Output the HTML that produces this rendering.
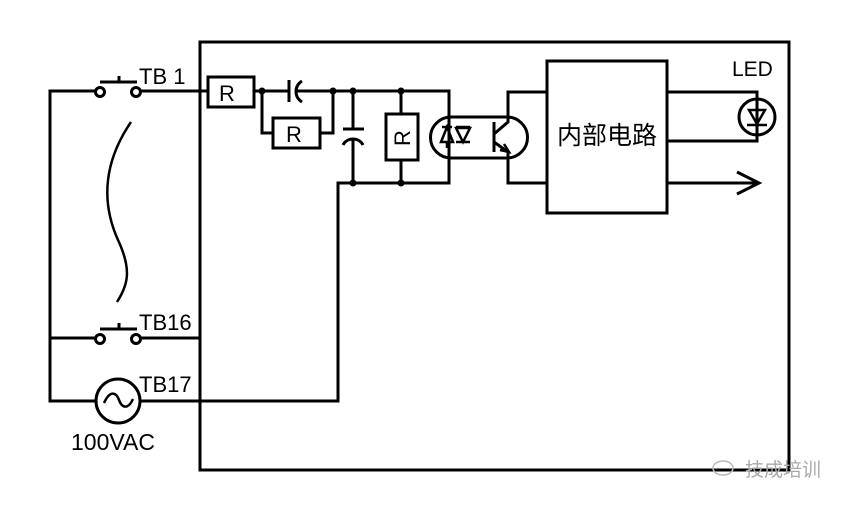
<!DOCTYPE html>
<html><head><meta charset="utf-8"><style>body{margin:0;background:#fff}svg{display:block}</style></head><body>
<svg width="855" height="508" viewBox="0 0 855 508" xmlns="http://www.w3.org/2000/svg" font-family="Liberation Sans, Noto Sans CJK SC, sans-serif">
<g fill="none" stroke="#000" stroke-width="3">
<rect x="200" y="42" width="589" height="428"/>
<polyline points="97,91 50,91 50,401 97,401"/>
<line x1="140" y1="91" x2="208" y2="91"/>
<line x1="50" y1="338" x2="97" y2="338"/>
<line x1="140" y1="338" x2="200" y2="338"/>
<polyline points="140,401 338,401 338,183 449,183 449,91 297,91"/>
<line x1="254" y1="91" x2="289" y2="91"/>
<path d="M100,82 H137 M119,82 V76"/>
<path d="M100,329 H137 M119,329 V323"/>
<path d="M131,122 C105,160 100,200 118,240 C132,270 128,285 117,302" stroke-width="2.5"/>
<circle cx="118" cy="401" r="22"/>
<path d="M104,403 C110,390 116,392 119,400 C122,408 128,410 133,399" stroke-width="2.5"/>
<rect x="208" y="77" width="46" height="30"/>
<rect x="273" y="118" width="47" height="30"/>
<rect x="386" y="114" width="32" height="46"/>
<polyline points="262,91 262,133 273,133"/><polyline points="320,133 333,133 333,91"/>
<line x1="289" y1="80" x2="289" y2="102"/>
<path d="M302,81 C294,86 294,97 302,102"/>
<line x1="353" y1="91" x2="353" y2="129"/><line x1="343" y1="129" x2="364" y2="129"/>
<path d="M343,145 C347,137 359,137 363,145"/><line x1="353" y1="139" x2="353" y2="183"/>
<line x1="401" y1="91" x2="401" y2="114"/><line x1="401" y1="160" x2="401" y2="183"/>
<path d="M451,117 H507 A20.5,20.5 0 0 1 507,158 H451 A20.5,20.5 0 0 1 451,117 Z"/>
<path d="M442,127 H452 M447,127 L441,142 H453 Z M447,142 V148" stroke-width="2.5"/>
<path d="M456,127 H470 M463,142 L456,128 H470 Z M456,142 H470" stroke-width="2.5"/>
<line x1="494" y1="122" x2="494" y2="152"/>
<polyline points="547,92 508,92 508,122 494,134"/>
<polyline points="494,142 508,152 508,183 547,183"/>
<path d="M500,150 L509,152 L504,144" stroke-width="2.5"/>
<rect x="547" y="61" width="120" height="152"/>
<polyline points="667,92 757,92 757,141 667,141"/>
<circle cx="757" cy="117" r="18"/>
<path d="M749,110 H765 L757,124 Z M747,125 H767" stroke-width="2.5"/>
<line x1="667" y1="183" x2="757" y2="183"/>
<path d="M737,172 L759,183 L737,194"/>
</g>
<g fill="#fff" stroke="#000" stroke-width="3">
<circle cx="100" cy="92" r="4.5"/><circle cx="136" cy="92" r="4.5"/>
<circle cx="100" cy="339" r="4.5"/><circle cx="136" cy="339" r="4.5"/>
</g>
<g fill="#000">
<circle cx="262" cy="91" r="3.5"/><circle cx="333" cy="91" r="3.5"/><circle cx="353" cy="91" r="3.5"/>
<circle cx="401" cy="91" r="3.5"/><circle cx="353" cy="183" r="3.5"/><circle cx="401" cy="183" r="3.5"/>
</g>
<g font-size="22" fill="#000">
<text x="139" y="84">TB 1</text>
<text x="139" y="330">TB16</text>
<text x="139" y="392">TB17</text>
<text x="71" y="450" font-size="23">100VAC</text>
<text x="732" y="76" font-size="21">LED</text>
<text x="219" y="101">R</text>
<text x="286" y="142">R</text>
<text x="0" y="0" transform="translate(410,146) rotate(-90)">R</text>
<text x="557" y="144" font-size="25">内部电路</text>
</g>
<text x="745" y="476" font-size="19" fill="#aaa" font-family="Noto Sans CJK SC, sans-serif">技成培训</text>
<ellipse cx="723" cy="468" rx="10" ry="7" fill="none" stroke="#bbb" stroke-width="1.5"/>
</svg>
</body></html>
